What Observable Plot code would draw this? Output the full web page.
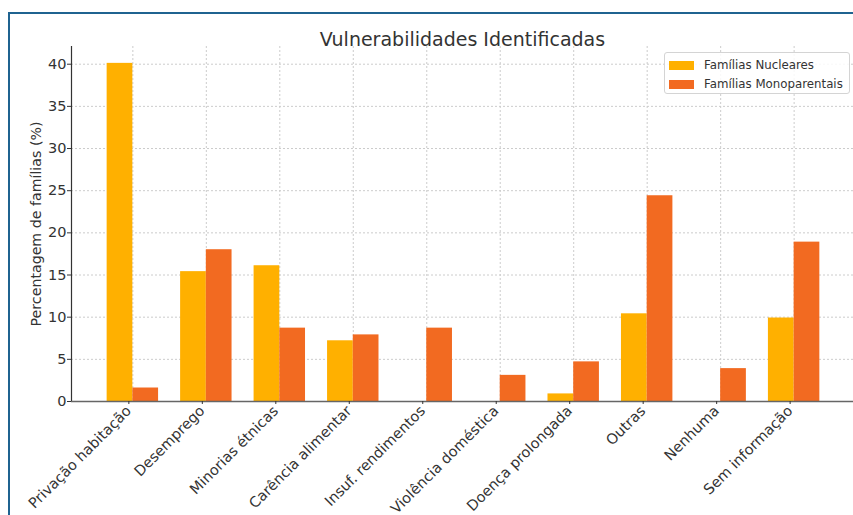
<!DOCTYPE html>
<html>
<head>
<meta charset="utf-8">
<script src="https://cdn.jsdelivr.net/npm/d3@7"></script>
<script src="https://cdn.jsdelivr.net/npm/@observablehq/plot@0.6"></script>
<style>
  html, body { margin: 0; padding: 0; background: #fff; overflow: hidden; }
  #wrap { position: relative; width: 853px; height: 515px; overflow: hidden; font-family: "DejaVu Sans", sans-serif; }
  #frame { position: absolute; left: 8px; top: 12px; width: 900px; height: 600px; border-left: 2.5px solid #1f6390; border-top: 2.5px solid #1f6390; pointer-events: none; }
  #legend { position: absolute; left: 664px; top: 52px; width: 184px; height: 40px; border: 1px solid #d4d4d4; border-radius: 3px; background: rgba(255,255,255,0.85); font-size: 11.8px; color: #333; white-space: nowrap; }
  .item { position: absolute; left: 4px; height: 16px; display: flex; align-items: center; }
  .sw { width: 25px; height: 9px; margin-right: 10px; }
</style>
</head>
<body>
<div id="wrap">
  <div id="chart"></div>
  <div id="legend"></div>
  <div id="frame"></div>
</div>
<script>
const categories = ["Privação habitação","Desemprego","Minorias étnicas","Carência alimentar","Insuf. rendimentos","Violência doméstica","Doença prolongada","Outras","Nenhuma","Sem informação"];
const nucleares = [40.1, 15.4, 16.1, 7.2, 0, 0, 0.9, 10.4, 0, 9.9];
const monoparentais = [1.6, 18.0, 8.7, 7.9, 8.7, 3.1, 4.7, 24.4, 3.9, 18.9];
const seriesNames = ["Famílias Nucleares", "Famílias Monoparentais"];
const colors = ["#ffb000", "#f26a21"];
const yTicks = [0, 5, 10, 15, 20, 25, 30, 35, 40];
const title = "Vulnerabilidades Identificadas";
const yLabel = "Percentagem de famílias (%)";

const barW = 0.35;
const rows = [];
categories.forEach((c, i) => {
  rows.push({i, c, s: seriesNames[0], v: nucleares[i], x1: i - barW, x2: i});
  rows.push({i, c, s: seriesNames[1], v: monoparentais[i], x1: i, x2: i + barW});
});
const xDomain = [-0.835, 9.808];
const yDomain = [0, 42.1];
const idx = categories.map((_, i) => i);

const chart = Plot.plot({
  width: 853,
  height: 515,
  marginLeft: 71,
  marginRight: 0,
  marginTop: 46,
  marginBottom: 114,
  style: {fontFamily: "DejaVu Sans, sans-serif", fontSize: "14px", color: "#333", background: "transparent"},
  x: {type: "linear", domain: xDomain},
  y: {domain: yDomain},
  color: {domain: seriesNames, range: colors},
  marks: [
    Plot.gridX(idx, {stroke: "#cccccc", strokeOpacity: 1, strokeDasharray: "2,2"}),
    Plot.gridY(yTicks, {stroke: "#cccccc", strokeOpacity: 1, strokeDasharray: "2,2"}),
    Plot.rectY(rows, {x1: "x1", x2: "x2", y: "v", fill: "s"}),
    Plot.ruleY([yDomain[0]], {stroke: "#666", strokeWidth: 1.5}),
    Plot.ruleX([xDomain[0]], {stroke: "#333", strokeWidth: 1.2}),
    Plot.axisY(yTicks, {tickSize: 4, tickPadding: 1, fontSize: 14.5, label: null, stroke: "#333"}),
    Plot.axisX(idx, {tickSize: 3, tickPadding: 4, tickRotate: -45, dx: -4, fontSize: 14.5, label: null, tickFormat: i => categories[i], stroke: "#333"}),
    Plot.text([yLabel], {frameAnchor: "left", textAnchor: "middle", rotate: -90, dx: -35, fontSize: 14.2, fill: "#333"}),
    Plot.text([title], {frameAnchor: "top", dy: -14, fontSize: 19, fill: "#333"})
  ]
});
document.getElementById("chart").appendChild(chart);

const legend = document.getElementById("legend");
seriesNames.forEach((n, k) => {
  const it = document.createElement("div");
  it.className = "item";
  it.style.top = (4 + k * 19) + "px";
  const sw = document.createElement("div");
  sw.className = "sw";
  sw.style.background = colors[k];
  it.appendChild(sw);
  const t = document.createElement("span");
  t.textContent = n;
  it.appendChild(t);
  legend.appendChild(it);
});
</script>
</body>
</html>
